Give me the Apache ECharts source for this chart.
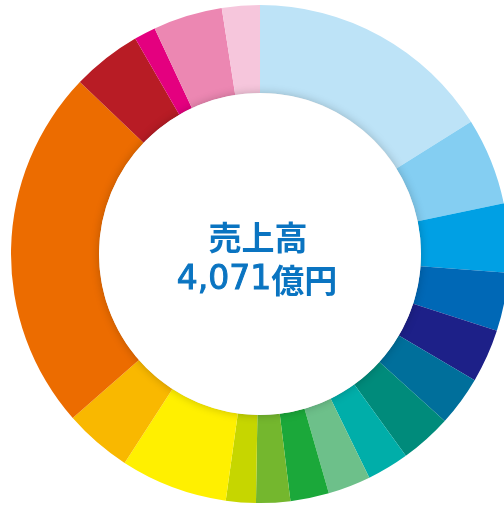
<!DOCTYPE html>
<html>
<head>
<meta charset="utf-8">
<script src="https://cdn.jsdelivr.net/npm/echarts@6/dist/echarts.min.js"></script>
<style>html,body{margin:0;padding:0;background:#fff;}#c{width:504px;height:505px;}</style>
</head>
<body>
<div id="c"></div>
<script>
// Segment names (unlabelled in the reference)
var categories = ['事業1','事業2','事業3','事業4','事業5','事業6','事業7','事業8','事業9','事業10',
                  '事業11','事業12','事業13','事業14','事業15','事業16','事業17','事業18','事業19'];
// Sales (億円), estimated from arc sizes; total 4,071
var values = [655, 230, 182, 154, 141, 132, 136, 111, 113, 102, 90, 79, 283, 179, 960, 184, 57, 183, 100];
var colors = ['#BDE3F7','#84CEF2','#00A0E4','#0068B6','#1D2088','#006F9B','#008B7B','#00AEA9','#6DC08A','#1BA83A',
              '#74B72E','#C6D600','#FFF000','#F9B800','#EC6C00','#B81C25','#E4007F','#EC87B2','#F6C6DC'];
var centerTitle = '売上高';
var centerNumber = '4,071';
var centerUnit = '億円';

var chart = echarts.init(document.getElementById('c'), null, {renderer: 'canvas'});
var data = categories.map(function (n, i) {
  return {name: n, value: values[i], itemStyle: {color: colors[i]}};
});
chart.setOption({
  animation: false,
  series: [{
    type: 'pie',
    center: [260, 254],
    radius: [161, 249],
    startAngle: 90,
    clockwise: true,
    label: {show: false},
    labelLine: {show: false},
    emphasis: {disabled: true},
    itemStyle: {borderWidth: 0},
    data: data
  }],
  graphic: [
    {type: 'circle', z: 100, shape: {cx: 260, cy: 254, r: 161},
     style: {fill: '#ffffff', shadowBlur: 10, shadowColor: 'rgba(0,0,0,0.22)'}},
    {type: 'text', z: 101, x: 258, y: 237,
     style: {text: centerTitle, fill: '#0A74C1', font: 'bold 33px "Noto Sans CJK JP"', align: 'center', verticalAlign: 'middle'}},
    {type: 'text', z: 101, x: 257, y: 280,
     style: {
       text: '{n|' + centerNumber + '}{u|' + centerUnit + '}',
       align: 'center', verticalAlign: 'middle',
       rich: {
         n: {fill: '#0A74C1', fontFamily: 'DejaVu Sans', fontWeight: 'normal', fontSize: 33,
             stroke: '#0A74C1', lineWidth: 1},
         u: {fill: '#0A74C1', fontFamily: 'Noto Sans CJK JP', fontWeight: 'bold', fontSize: 33}
       }
     }}
  ]
});
</script>
</body>
</html>
